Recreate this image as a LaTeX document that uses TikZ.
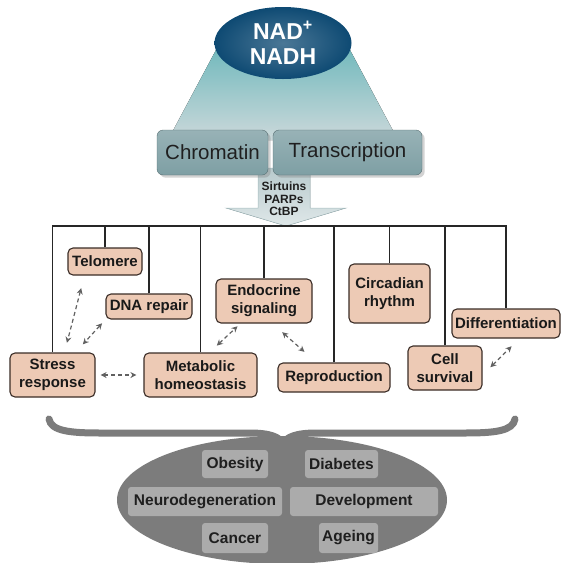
\documentclass[tikz,border=0pt]{standalone}
\usepackage{fontspec}
\setmainfont{Liberation Sans}
\usetikzlibrary{positioning,arrows.meta,shadows,shapes.geometric}

\definecolor{peach}{HTML}{EDCAB5}
\definecolor{boxline}{HTML}{3A2C26}
\definecolor{navy}{HTML}{0E4A73}
\definecolor{tealgrey}{HTML}{7E9FA4}
\definecolor{greyfill}{HTML}{7C7C7C}
\definecolor{greybox}{HTML}{ABABAB}

\begin{document}
\begin{tikzpicture}[x=1pt, y=-1pt,
        process/.style={rectangle, rounded corners=5pt, draw=boxline, fill=peach, line width=1.1pt,
            inner sep=1pt, align=center, font=\fontsize{15}{18}\selectfont\bfseries, text=black!90},
        layer/.style={rectangle, rounded corners=6pt, top color=tealgrey!80, bottom color=tealgrey,
            draw=tealgrey!70!black, line width=0.4pt, drop shadow={opacity=0.35},
            font=\fontsize{20.5}{23}\selectfont, text=black!88},
        disease/.style={rectangle, rounded corners=3pt, fill=greybox, inner sep=1pt,
            font=\fontsize{15.5}{17}\selectfont\bfseries, text=black!88},
        bus/.style={draw=black!85, line width=1.2pt},
        rel/.style={draw=black!62, line width=1.2pt, dash pattern=on 4pt off 3pt,
            {Stealth[length=6pt,width=6pt]}-{Stealth[length=6pt,width=6pt]}}]
    \useasboundingbox (0,0) rectangle (561,563);

    % cone below NAD
    \fill[top color=tealgrey!80!cyan!90!white, bottom color=tealgrey!40!white]
        (216,50) -- (350,50) -- (398,140) -- (168,140) -- cycle;
    \node[ellipse, minimum width=137pt, minimum height=72pt, inner color=navy!75!white, outer color=navy,
        align=center, text=white, font=\fontsize{23}{25}\selectfont\bfseries] (nad) at (283,43)
        {NAD\textsuperscript{+}\\NADH};

    % arrow with enzymes
    \coordinate (tip) at (286,226);
    \filldraw[draw=tealgrey!70, line width=0.5pt, top color=tealgrey!55!white, bottom color=tealgrey!25!white]
        (258,168) -- (310,168) -- (310,208) -- (346,208) -- (tip) -- (226,208) -- (258,208) -- cycle;
    \node[align=center, font=\fontsize{12}{12.5}\selectfont\bfseries, text=black!88] (sirt) at (284,199)
        {Sirtuins\\PARPs\\CtBP};

    \node[layer, minimum width=111pt, minimum height=45pt] (chrom) at (212.5,152.5) {Chromatin};
    \node[layer, minimum width=149pt, minimum height=45pt] (trans) at (347.5,152.5) {Transcription};

    % processes
    \node[process, minimum width=74pt, minimum height=27pt] (telo) at (105,261.5) {Telomere};
    \node[process, minimum width=86pt, minimum height=25pt] (dna) at (149,306.5) {DNA repair};
    \node[process, minimum width=85pt, minimum height=44pt] (stress) at (52.5,375) {Stress\\response};
    \node[process, minimum width=113pt, minimum height=44pt] (metab) at (200.5,375) {Metabolic\\homeostasis};
    \node[process, minimum width=96pt, minimum height=44pt] (endo) at (264,301) {Endocrine\\signaling};
    \node[process, minimum width=112pt, minimum height=29pt] (repro) at (334,377.5) {Reproduction};
    \node[process, minimum width=81pt, minimum height=59pt] (circ) at (389.5,293.5) {Circadian\\rhythm};
    \node[process, minimum width=74pt, minimum height=44pt] (cell) at (445,368) {Cell\\survival};
    \node[process, minimum width=108pt, minimum height=29pt] (diff) at (506,323.5) {Differentiation};

    % bus
    \draw[bus] (stress.north) |- (diff.north |- tip) -- (diff.north);
    \foreach \n in {telo, dna, metab, endo, repro, circ, cell}
        \draw[bus] (\n.north) -- (\n.north |- tip);

    % interactions
    \draw[rel, shorten <=13pt, shorten >=10pt] ([xshift=17pt]telo.south west) -- ([xshift=55pt]stress.north west);
    \draw[rel, shorten <=5pt, shorten >=11pt] (dna.south west) -- ([xshift=66pt]stress.north west);
    \draw[rel, shorten <=5pt, shorten >=7pt] (stress.east) -- (metab.west);
    \draw[rel, shorten <=10pt, shorten >=4pt] ([xshift=66pt]metab.north west) -- ([xshift=25pt]endo.south west);
    \draw[rel, shorten <=13pt, shorten >=16pt] ([xshift=57pt]endo.south west) -- ([xshift=39pt]repro.north west);
    \draw[rel, shorten <=11pt, shorten >=11pt] ([yshift=-7pt]cell.east) -- ([xshift=68pt]diff.south west);

    % brace and outcomes
    \draw[greyfill, line width=7pt, line cap=round]
        (49,419) .. controls (51,431) and (70,433) .. (100,433) -- (250,433)
        .. controls (270,433) and (280,437) .. (283,444)
        .. controls (286,437) and (296,433) .. (316,433) -- (465,433)
        .. controls (495,433) and (513,431) .. (515,419);
    \node[ellipse, fill=greyfill, minimum width=330pt, minimum height=128pt] (outcome) at (282,500) {};
    \node[disease, minimum width=66pt, minimum height=28pt] (obes) at (235,464) {Obesity};
    \node[disease, minimum width=73pt, minimum height=28pt] (diab) at (341.5,464) {Diabetes};
    \node[disease, minimum width=154pt, minimum height=29pt] (neuro) at (205,501.5) {Neurodegeneration};
    \node[disease, minimum width=148pt, minimum height=29pt] (devel) at (364,501.5) {Development};
    \node[disease, minimum width=66pt, minimum height=30pt] (canc) at (235,538) {Cancer};
    \node[disease, minimum width=59pt, minimum height=30pt] (age) at (348.5,538) {Ageing};
\end{tikzpicture}
\end{document}
